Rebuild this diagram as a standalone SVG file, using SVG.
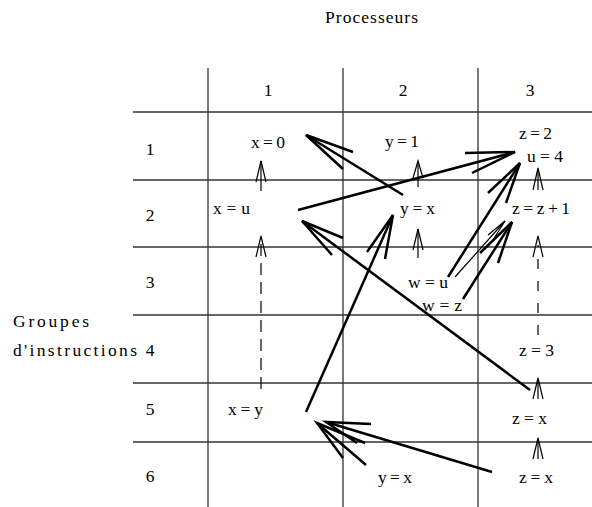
<svg xmlns="http://www.w3.org/2000/svg" width="592" height="507" viewBox="0 0 592 507">
<defs>
<style>
text { font-family: "Liberation Serif", "Times New Roman", serif; font-size: 17.5px; fill: #000; }
.grid line { stroke: #333; stroke-width: 1.3; }
.small line, .small polyline { stroke: #000; stroke-width: 1.2; fill: none; }
.dash1 { stroke-dasharray: 12 7; }
.dash3 { stroke-dasharray: 10 12; }
.thick line, .thick polyline { stroke: #000; stroke-width: 2.5; fill: none; stroke-linecap: butt; }
</style>
</defs>
<rect width="592" height="507" fill="#fff"/>

<g id="grid" class="grid">
<line x1="208" y1="68" x2="208" y2="507"/>
<line x1="343" y1="68" x2="343" y2="507"/>
<line x1="478" y1="68" x2="478" y2="507"/>
<line x1="133" y1="112" x2="592" y2="112"/>
<line x1="133" y1="180" x2="592" y2="180"/>
<line x1="133" y1="247" x2="592" y2="247"/>
<line x1="133" y1="315" x2="592" y2="315"/>
<line x1="133" y1="383" x2="592" y2="383"/>
<line x1="133" y1="442" x2="592" y2="442"/>
</g>

<g id="labels">
<text x="325" y="23" textLength="93">Processeurs</text>
<text x="268" y="96" text-anchor="middle">1</text>
<text x="403" y="96" text-anchor="middle">2</text>
<text x="530" y="96" text-anchor="middle">3</text>
<text x="150" y="155" text-anchor="middle">1</text>
<text x="150" y="221" text-anchor="middle">2</text>
<text x="150" y="288" text-anchor="middle">3</text>
<text x="150" y="356" text-anchor="middle">4</text>
<text x="150" y="415" text-anchor="middle">5</text>
<text x="150" y="482" text-anchor="middle">6</text>
<text x="13" y="327" textLength="76">Groupes</text>
<text x="13" y="356" textLength="124">d'instructions</text>
</g>

<g id="n-x0"><text x="251" y="148" textLength="34">x=0</text></g>
<g id="n-y1"><text x="385" y="147" textLength="34">y=1</text></g>
<g id="n-z2"><text x="519" y="139" textLength="33">z=2</text></g>
<g id="n-u4"><text x="527" y="162" textLength="36">u=4</text></g>
<g id="n-xu"><text x="213" y="214" textLength="37">x=u</text></g>
<g id="n-yx2"><text x="400" y="214" textLength="35">y=x</text></g>
<g id="n-zz1"><text x="512" y="214" textLength="58">z=z+1</text></g>
<g id="n-wu"><text x="408" y="288" textLength="40">w=u</text></g>
<g id="n-wz"><text x="422" y="311" textLength="40">w=z</text></g>
<g id="n-z3"><text x="519" y="356" textLength="35">z=3</text></g>
<g id="n-xy"><text x="228" y="415" textLength="35">x=y</text></g>
<g id="n-zx5"><text x="512" y="424" textLength="35">z=x</text></g>
<g id="n-yx6"><text x="378" y="483" textLength="34">y=x</text></g>
<g id="n-zx6"><text x="519" y="483" textLength="34">z=x</text></g>

<g id="connectors">
<g class="small">
<line x1="261" y1="191" x2="261" y2="161"/>
<polyline points="256,182 261,161 266,182"/>
<line class="dash1" x1="261" y1="389" x2="261" y2="241"/>
<polyline points="256,257 261,236 266,257"/>
<line x1="418" y1="187" x2="418" y2="161"/>
<polyline points="413,178 418,161 423,178"/>
<line x1="418" y1="258" x2="418" y2="229"/>
<polyline points="413,250 418,229 423,250"/>
<line x1="538" y1="190" x2="538" y2="169"/>
<polyline points="533,190 538,168 543,190"/>
<line class="dash3" x1="538" y1="335" x2="538" y2="245"/>
<polyline points="533,257 538,236 543,257"/>
<line x1="538" y1="399" x2="538" y2="379"/>
<polyline points="533,399 538,378 543,399"/>
<line x1="538" y1="459" x2="538" y2="439"/>
<polyline points="533,459 538,438 543,459"/>
<line x1="455" y1="277" x2="505" y2="221" stroke-width="1"/>
<polyline points="488,235 505,221 493,240" stroke-width="1"/>
</g>
<g class="thick">
<line x1="403" y1="195" x2="306" y2="135"/>
<polyline points="353,152 306,135 343,169"/>
<line x1="298" y1="210" x2="515" y2="152" stroke-width="3"/>
<polyline points="465,153 515,152 472,173" stroke-width="3"/>
<line x1="448" y1="277" x2="520" y2="163"/>
<polyline points="488,193 520,163 506,203"/>
<line x1="463" y1="299" x2="512" y2="222"/>
<polyline points="480,253 512,222 498,263"/>
<line x1="306" y1="412" x2="393" y2="215"/>
<polyline points="367,252 393,215 385,259"/>
<line x1="530" y1="390" x2="302" y2="221"/>
<polyline points="343,238 302,221 332,255"/>
<line x1="366" y1="465" x2="317" y2="423"/>
<polyline points="365,443 317,423 343,458"/>
<line x1="492" y1="472" x2="326" y2="422"/>
<polyline points="371,424 326,422 357,443"/>
</g>
</g>
</svg>
